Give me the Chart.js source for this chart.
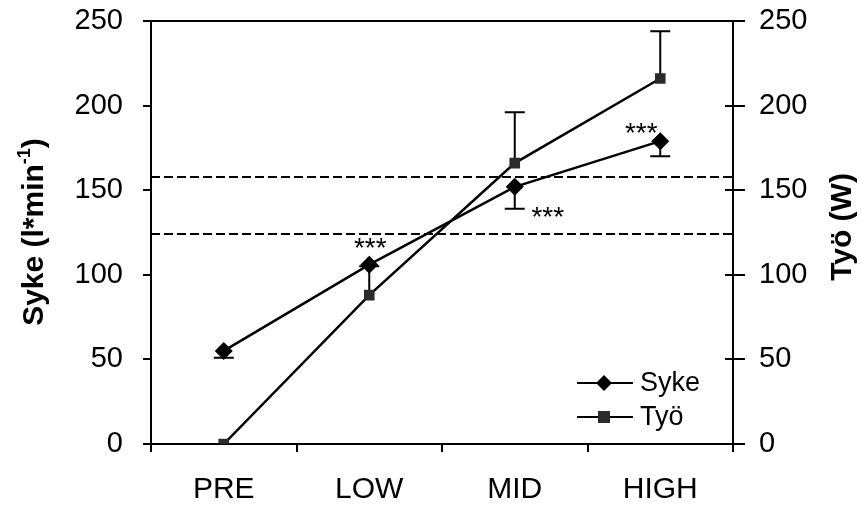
<!DOCTYPE html>
<html>
<head>
<meta charset="utf-8">
<script src="https://cdn.jsdelivr.net/npm/chart.js@4"></script>
<style>
  html, body { margin: 0; padding: 0; background: #fff; }
  #wrap { width: 862px; height: 506px; }
</style>
</head>
<body>
<div id="wrap"><canvas id="chart" width="862" height="506"></canvas></div>
<script>
// categories and series
const categories = ['PRE', 'LOW', 'MID', 'HIGH'];
const sykeValues = [55, 106, 152, 179];
const tyoValues = [0, 88, 166, 216];
// error bar ends (Syke down, Työ up), null = no bar
const sykeErrLow = [51, null, 139, 170];
const tyoErrHigh = [null, 105, 196, 244];
// dashed reference lines (left axis units)
const refLines = [158, 124];
// significance marks: [anchor, index, dx, dy]
const stars = [
  ['syke', 1, 1, -24],
  ['sykeErr', 2, 33, 1],
  ['syke', 3, -19, -15]
];
const yTicks = [0, 50, 100, 150, 200, 250];

const FONT = '"Liberation Sans", Arial, sans-serif';

const extras = {
  id: 'extras',
  beforeDatasetsDraw(chart) {
    const { ctx, chartArea: a, scales } = chart;
    const x = scales.x, y = scales.y, y1 = scales.y1;
    ctx.save();
    // dashed lines
    ctx.strokeStyle = '#000';
    ctx.lineWidth = 2;
    ctx.setLineDash([9, 4]);
    refLines.forEach(v => {
      const py = Math.round(y.getPixelForValue(v));
      ctx.beginPath();
      ctx.moveTo(a.left, py);
      ctx.lineTo(a.right, py);
      ctx.stroke();
    });
    ctx.setLineDash([]);
    // error bars
    const bar = (px, p0, p1) => {
      ctx.beginPath();
      ctx.moveTo(px, p0);
      ctx.lineTo(px, p1);
      ctx.moveTo(px - 10, p1);
      ctx.lineTo(px + 10, p1);
      ctx.stroke();
    };
    sykeErrLow.forEach((v, i) => {
      if (v === null) return;
      bar(x.getPixelForValue(i), y.getPixelForValue(sykeValues[i]), y.getPixelForValue(v));
    });
    tyoErrHigh.forEach((v, i) => {
      if (v === null) return;
      bar(x.getPixelForValue(i), y1.getPixelForValue(tyoValues[i]), y1.getPixelForValue(v));
    });
    ctx.restore();
  },
  afterDraw(chart) {
    const { ctx, chartArea: a, scales } = chart;
    const x = scales.x, y = scales.y, y1 = scales.y1;
    ctx.save();
    ctx.strokeStyle = '#000';
    ctx.lineWidth = 2;
    // top frame line
    ctx.beginPath();
    ctx.moveTo(a.left - 8, a.top);
    ctx.lineTo(a.right, a.top);
    ctx.stroke();
    // right axis ticks crossing inward
    yTicks.forEach(v => {
      const py = Math.round(y1.getPixelForValue(v));
      ctx.beginPath();
      ctx.moveTo(a.right - 8, py);
      ctx.lineTo(a.right, py);
      ctx.stroke();
    });
    // stars (glyph centre ~16px above baseline at 28px)
    ctx.fillStyle = '#000';
    ctx.font = '28px ' + FONT;
    ctx.textAlign = 'center';
    ctx.textBaseline = 'alphabetic';
    stars.forEach(([s, i, dx, dy]) => {
      const v = s === 'syke' ? sykeValues[i] : sykeErrLow[i];
      ctx.fillText('***', x.getPixelForValue(i) + dx, y.getPixelForValue(v) + dy + 16);
    });
    // legend
    const items = chart.data.datasets;
    const lx = a.right - 156, ly = a.bottom - 61;
    items.forEach((ds, k) => {
      const py = ly + k * 34;
      ctx.lineWidth = 2;
      ctx.beginPath();
      ctx.moveTo(lx, py);
      ctx.lineTo(lx + 56, py);
      ctx.stroke();
      ctx.fillStyle = ds.pointBackgroundColor;
      const cx = lx + 27;
      if (ds.pointStyle === 'rectRot') {
        ctx.beginPath();
        ctx.moveTo(cx, py - 8); ctx.lineTo(cx + 8, py); ctx.lineTo(cx, py + 8); ctx.lineTo(cx - 8, py);
        ctx.closePath(); ctx.fill();
      } else {
        ctx.fillRect(cx - 6, py - 6, 12, 12);
      }
      ctx.fillStyle = '#000';
      ctx.font = '27px ' + FONT;
      ctx.textAlign = 'left';
      ctx.textBaseline = 'middle';
      ctx.fillText(ds.label, lx + 63, py + 1);
    });
    // axis titles
    ctx.textBaseline = 'alphabetic';
    ctx.textAlign = 'left';
    const main = 'Syke (l*min';
    const sup = '-1';
    const tail = ')';
    ctx.font = 'bold 30px ' + FONT;
    const wMain = ctx.measureText(main).width;
    const wTail = ctx.measureText(tail).width;
    ctx.font = 'bold 18px ' + FONT;
    const wSup = ctx.measureText(sup).width;
    const total = wMain + wSup + wTail;
    ctx.save();
    ctx.translate(43, 232);
    ctx.rotate(-Math.PI / 2);
    let sx = -total / 2;
    ctx.font = 'bold 30px ' + FONT;
    ctx.fillText(main, sx, 0);
    sx += wMain;
    ctx.font = 'bold 18px ' + FONT;
    ctx.fillText(sup, sx, -13);
    sx += wSup;
    ctx.font = 'bold 30px ' + FONT;
    ctx.fillText(tail, sx, 0);
    ctx.restore();
    ctx.save();
    ctx.translate(851, 227);
    ctx.rotate(-Math.PI / 2);
    ctx.textAlign = 'center';
    ctx.font = 'bold 30px ' + FONT;
    ctx.fillText('Työ (W)', 0, 0);
    ctx.restore();
    ctx.restore();
  }
};

const axisGrid = { drawOnChartArea: false, color: '#000', lineWidth: 2, tickLength: 8 };
const axisBorder = { color: '#000', width: 2 };
const fitY = w => s => { s.width = w; s.paddingTop = 21; s.paddingBottom = 0; };

new Chart(document.getElementById('chart'), {
  type: 'line',
  data: {
    labels: categories,
    datasets: [
      {
        label: 'Syke', data: sykeValues, yAxisID: 'y',
        borderColor: '#000', borderWidth: 2.5,
        pointStyle: 'rectRot', pointRadius: 9, pointBackgroundColor: '#000', pointBorderWidth: 0
      },
      {
        label: 'Työ', data: tyoValues, yAxisID: 'y1',
        borderColor: '#000', borderWidth: 2.5,
        pointStyle: 'rect', pointRadius: 7.5, pointBackgroundColor: '#2b2b2b', pointBorderWidth: 0
      }
    ]
  },
  options: {
    responsive: false,
    animation: false,
    layout: { padding: 0 },
    plugins: { legend: { display: false }, tooltip: { enabled: false } },
    scales: {
      x: {
        offset: true,
        grid: { ...axisGrid, offset: true },
        border: axisBorder,
        ticks: { color: '#000', font: { family: FONT, size: 30 }, padding: 20, maxRotation: 0 },
        afterFit(s) { s.height = 62; s.paddingLeft = 0; s.paddingRight = 0; }
      },
      y: {
        position: 'left', min: 0, max: 250,
        grid: axisGrid, border: axisBorder,
        ticks: { stepSize: 50, color: '#000', font: { family: FONT, size: 29 }, padding: 20 },
        afterFit: fitY(151)
      },
      y1: {
        position: 'right', min: 0, max: 250,
        grid: { ...axisGrid, tickLength: 12 }, border: axisBorder,
        ticks: { stepSize: 50, color: '#000', font: { family: FONT, size: 29 }, padding: 14 },
        afterFit: fitY(129)
      }
    }
  },
  plugins: [extras]
});
</script>
</body>
</html>
